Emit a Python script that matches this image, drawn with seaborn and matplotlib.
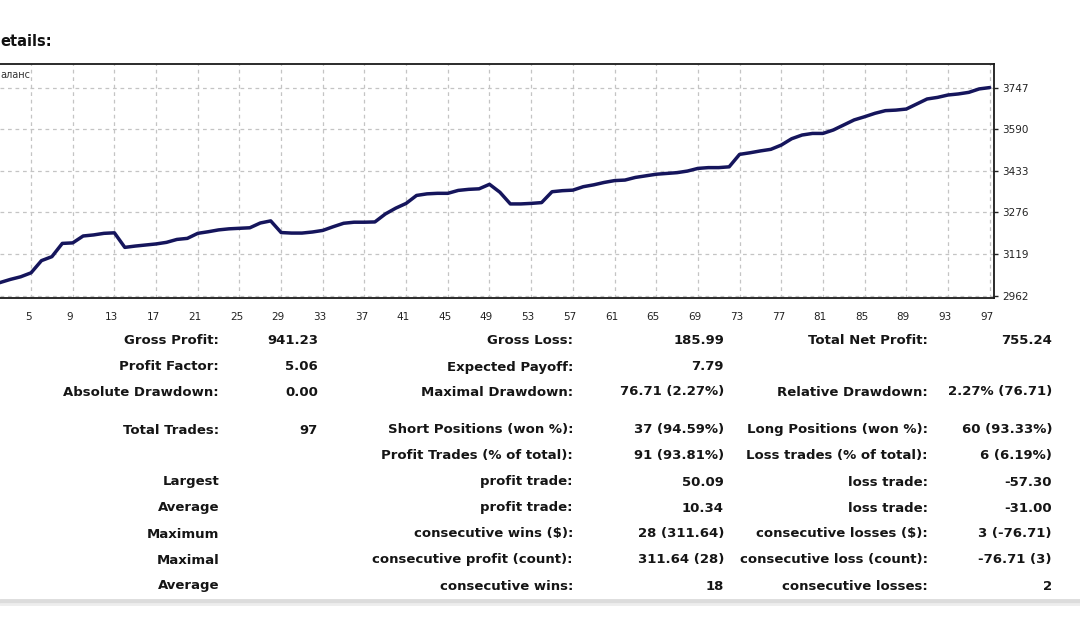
import numpy as np
import pandas as pd
import matplotlib
matplotlib.use("Agg")
import matplotlib.pyplot as plt
import matplotlib.transforms as mtransforms
import seaborn as sns

# ---------------- data ----------------
trades = list(range(0, 98))
balance = [3000, 3005, 3011, 3023, 3033, 3048, 3094, 3109, 3159, 3161,
           3187, 3191, 3197, 3199, 3144, 3149, 3153, 3157, 3163, 3174,
           3178, 3197, 3203, 3210, 3214, 3216, 3218, 3236, 3244, 3200,
           3198, 3198, 3202, 3208, 3222, 3235, 3239, 3239, 3240, 3270,
           3292, 3310, 3340, 3346, 3348, 3348, 3359, 3363, 3365, 3382,
           3352, 3308, 3308, 3310, 3313, 3354, 3358, 3360, 3373, 3380,
           3389, 3396, 3398, 3408, 3414, 3420, 3423, 3426, 3432, 3442,
           3445, 3445, 3448, 3495, 3501, 3508, 3514, 3530, 3554, 3568,
           3574, 3574, 3587, 3606, 3625, 3637, 3650, 3660, 3662, 3666,
           3685, 3704, 3710, 3719, 3723, 3729, 3742, 3747]
x_ticks = list(range(5, 98, 4))
y_ticks = [2962, 3119, 3276, 3433, 3590, 3747]

row_prefix = ["", "", "", "", "", "Largest", "Average", "Maximum", "Maximal", "Average"]
col1_labels = ["Gross Profit:", "Profit Factor:", "Absolute Drawdown:", "Total Trades:", "",
               "", "", "", "", ""]
col1_values = ["941.23", "5.06", "0.00", "97", "", "", "", "", "", ""]
col2_labels = ["Gross Loss:", "Expected Payoff:", "Maximal Drawdown:", "Short Positions (won %):",
               "Profit Trades (% of total):", "profit trade:", "profit trade:",
               "consecutive wins ($):", "consecutive profit (count):", "consecutive wins:"]
col2_values = ["185.99", "7.79", "76.71 (2.27%)", "37 (94.59%)", "91 (93.81%)",
               "50.09", "10.34", "28 (311.64)", "311.64 (28)", "18"]
col3_labels = ["Total Net Profit:", "", "Relative Drawdown:", "Long Positions (won %):",
               "Loss trades (% of total):", "loss trade:", "loss trade:",
               "consecutive losses ($):", "consecutive loss (count):", "consecutive losses:"]
col3_values = ["755.24", "", "2.27% (76.71)", "60 (93.33%)", "6 (6.19%)",
               "-57.30", "-31.00", "3 (-76.71)", "-76.71 (3)", "2"]

# ---------------- figure ----------------
sns.set_theme(style="white")
plt.rcParams['font.family'] = ['DejaVu Sans']

W, H = 1080, 631
fig = plt.figure(figsize=(W / 100, H / 100), dpi=100)
fig.patch.set_facecolor("white")

def fx(px):
    return px / W

def fy(py):
    return 1 - py / H

ax = fig.add_axes([0, fy(298), fx(994), (298 - 64) / H])
df = pd.DataFrame({"trade": trades, "balance": balance})
sns.lineplot(data=df, x="trade", y="balance", ax=ax, color="#15155c", linewidth=2.5)

ax.set_xticks(x_ticks)
ax.set_yticks(y_ticks)
ax.set_xticklabels([str(t) for t in x_ticks])
ax.set_yticklabels([str(t) for t in y_ticks])
ax.set_xlim(2.02, 97.42)
ax.set_ylim(2953, 3836)
ax.set_xlabel("")
ax.set_ylabel("")
ax.yaxis.tick_right()
ax.tick_params(axis="y", which="both", right=True, left=False, length=3, width=1,
               color="#222222", labelsize=7.5, pad=3, labelcolor="#222222")
ax.tick_params(axis="x", which="both", bottom=False, labelsize=7.5, pad=4,
               labelcolor="#222222")
offset = mtransforms.ScaledTranslation(-3 / 100, 0, fig.dpi_scale_trans)
for lab in ax.get_xticklabels():
    lab.set_transform(lab.get_transform() + offset)

ax.grid(True, color="#c4c4c4", linestyle=(0, (3, 3)), linewidth=0.9)
for side in ["top", "right", "bottom"]:
    ax.spines[side].set_visible(True)
    ax.spines[side].set_color("#1a1a1a")
    ax.spines[side].set_linewidth(1.3)
ax.spines["left"].set_visible(False)

ax.text(0.0, 0.955, "аланс", transform=ax.transAxes, fontsize=7, color="#333333",
        ha="left", va="center")

fig.text(fx(0), fy(41), "etails:", fontsize=10.5, fontweight="bold",
         color="#111111", ha="left", va="center")

# ---------------- table ----------------
row_y = [341, 367, 392, 430, 456, 482, 508, 534, 560, 586]
c1_lab, c1_val, c2_lab, c2_val, c3_lab, c3_val = 219, 318, 573, 724, 928, 1052
fs = 9.5
tcol = "#151515"
for i, y in enumerate(row_y):
    yy = fy(y)
    for txt, xr in [(row_prefix[i], c1_lab), (col1_labels[i], c1_lab), (col1_values[i], c1_val),
                    (col2_labels[i], c2_lab), (col2_values[i], c2_val),
                    (col3_labels[i], c3_lab), (col3_values[i], c3_val)]:
        if txt:
            fig.text(fx(xr), yy, txt, fontsize=fs, fontweight="bold", color=tcol,
                     ha="right", va="center")

fig.add_artist(plt.Line2D([0, 1], [fy(601), fy(601)], color="#dcdcdc", linewidth=3.5,
                          transform=fig.transFigure))
fig.add_artist(plt.Line2D([0, 1], [fy(604), fy(604)], color="#ededed", linewidth=2,
                          transform=fig.transFigure))

fig.savefig("out.png", dpi=100, facecolor="white")
